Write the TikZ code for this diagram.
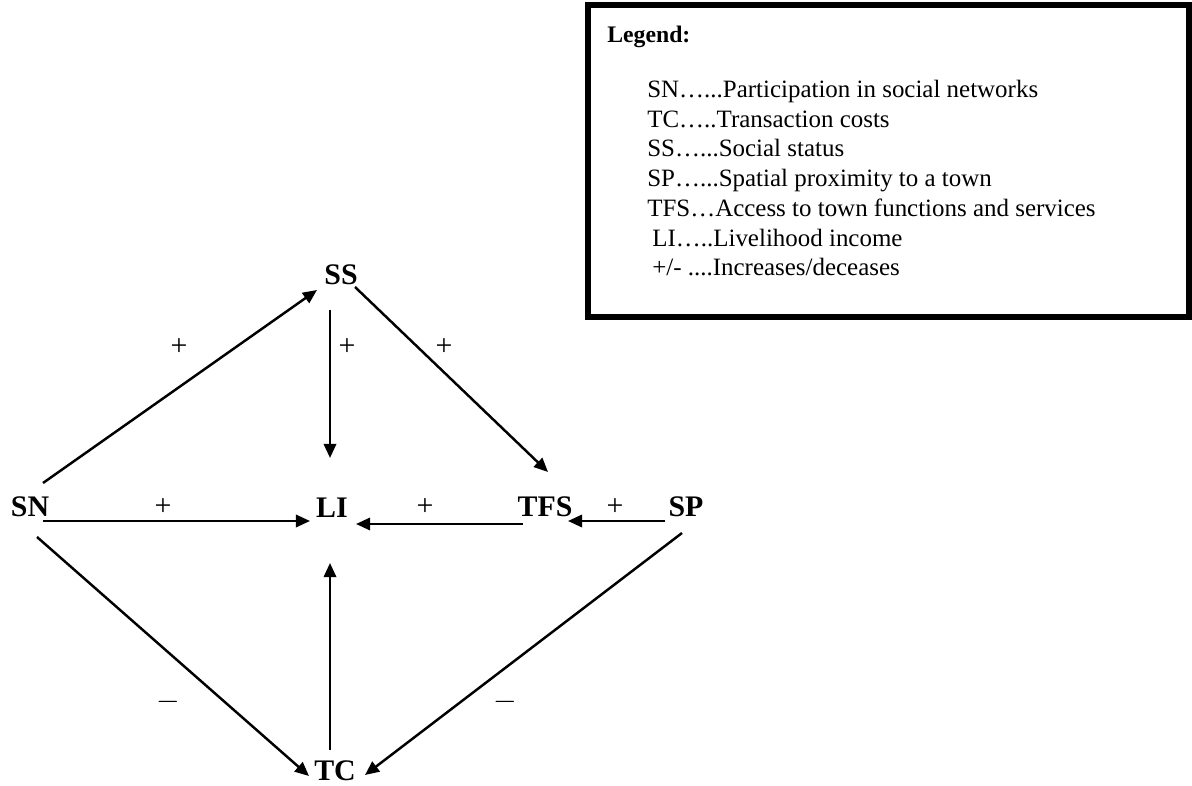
\documentclass[tikz,border=0pt]{standalone}
\usepackage{fontspec}
\setmainfont{Liberation Serif}
\usetikzlibrary{arrows.meta,calc}

\begin{document}
\begin{tikzpicture}[
    x=0.02cm, y=-0.02cm,
    var/.style={font=\fontsize{17}{20}\selectfont\bfseries, inner sep=0pt},
    sign/.style={font=\fontsize{17}{19}\selectfont, inner sep=0pt},
    link/.style={draw, line width=1.4pt, -{Triangle[length=8pt, width=7pt]}},
    legtext/.style={font=\fontsize{14.2}{17}\selectfont, anchor=base west, inner sep=0pt}
]
\useasboundingbox (0,0) rectangle (1192,786);

% variables
\node[var] (SS) at (341,275) {SS};
\node[var] (SN) at (30,507) {SN};
\node[var] (LI) at (332,508) {LI};
\node[var] (TFS) at (545,507) {TFS};
\node[var] (SP) at (686,507) {SP};
\node[var] (TC) at (335,771) {TC};

% links
\draw[link] ($(SN)+(13,-24)$) -- ($(SS)+(-24,15)$);
\draw[link] ($(SS)+(-11,35)$) -- ($(LI)+(-2,-50)$);
\draw[link] ($(SS)+(14,12)$) -- ($(TFS)+(3,-35)$);
\draw[link] ($(SN)+(13,14)$) -- ($(LI)+(-22,13)$);
\draw[link] ($(TFS)+(-22,17)$) -- ($(LI)+(24,16)$);
\draw[link] ($(SP)+(-21,14)$) -- ($(TFS)+(23,14)$);
\draw[link] ($(SN)+(7,30)$) -- ($(TC)+(-26,5)$);
\draw[link] ($(SP)+(-4,26)$) -- ($(TC)+(30,4)$);
\draw[link] ($(TC)+(-5,-21)$) -- ($(LI)+(-2,55)$);

% signs
\node[sign] (s1) at (179,347) {+};
\node[sign] (s2) at (347,347) {+};
\node[sign] (s3) at (444,347) {+};
\node[sign] (s4) at (163,507) {+};
\node[sign] (s5) at (425,507) {+};
\node[sign] (s6) at (615,507) {+};
\node[sign] (s7) at (168,702) {$-$};
\node[sign] (s8) at (505,702) {$-$};

% legend
\draw[line width=3.4pt] (588,5) rectangle (1189,317);
\node[legtext, font=\fontsize{13.5}{16}\selectfont\bfseries] (legtitle) at (607,43) {Legend:};
\node[legtext] (leg1) at (647,98) {SN…...Participation in social networks};
\node[legtext] (leg2) at (647,128) {TC…..Transaction costs};
\node[legtext] (leg3) at (647,157) {SS…...Social status};
\node[legtext] (leg4) at (647,187) {SP…...Spatial proximity to a town};
\node[legtext] (leg5) at (647,217) {TFS…Access to town functions and services};
\node[legtext] (leg6) at (652,247) {LI…..Livelihood income};
\node[legtext] (leg7) at (652,276) {+/- ....Increases/deceases};
\end{tikzpicture}
\end{document}
